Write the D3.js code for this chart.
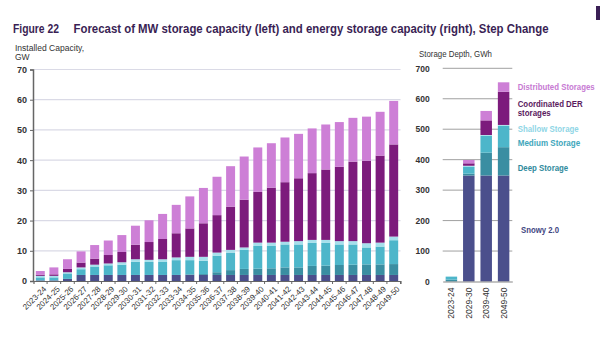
<!DOCTYPE html>
<html><head><meta charset="utf-8">
<script src="https://cdn.jsdelivr.net/npm/d3@7"></script>
<style>body{margin:0;background:#fff}svg{display:block}text{font-family:"Liberation Sans",Arial,sans-serif}</style>
</head><body><svg id="c" width="600" height="351"></svg>
<script>
const years = ["2023-24","2024-25","2025-26","2026-27","2027-28","2028-29","2029-30","2030-31","2031-32","2032-33","2033-34","2034-35","2035-36","2036-37","2037-38","2038-39","2039-40","2040-41","2041-42","2042-43","2043-44","2044-45","2045-46","2046-47","2047-48","2048-49","2049-50"];
const seriesNames = ["Snowy 2.0","Deep Storage","Medium Storage","Shallow Storage","Coordinated DER storages","Distributed Storages"];
const snowyGW = [0.2,0.2,0.7,2,2,2,2,2,2,2,2,2,2,2,2,2,2,2,2,2,2,2,2,2,2,2,2];
const deepGW = [0,0,0,0,0,0,0,0,0,0,0,0.2,0.3,0.9,1.6,2.0,2.1,2.2,2.5,2.5,3.0,3.1,3.3,3.4,3.5,3.5,3.6];
const mediumGW = [1.0,1.0,1.8,1.9,2.8,3.2,3.4,4.4,4.3,4.3,4.9,4.7,4.4,5.5,5.8,6.3,7.5,7.4,7.6,7.6,7.6,7.5,6.8,6.7,5.6,5.9,7.9];
const shallowGW = [0.5,0.5,0.4,0.6,0.6,0.6,0.8,0.8,0.7,0.9,0.9,1.1,1.3,1.0,0.9,0.8,1.1,1.1,0.9,1.1,1.0,1.0,1.1,1.1,1.4,1.3,1.2];
const derGW = [0.4,0.5,1.1,1.6,2.0,2.8,3.4,4.8,5.9,6.7,8.0,9.4,11.1,12.4,14.3,15.8,16.8,18.2,19.7,20.8,22.1,23.3,24.6,26.3,27.3,28.8,30.5];
const distGW = [1.2,2.3,3.2,3.7,4.5,4.8,5.6,6.3,7.2,8.3,9.4,10.6,11.7,12.7,13.4,14.3,14.7,14.7,14.8,14.7,14.8,14.9,14.8,14.5,14.6,14.5,14.4];
const gwTicks = [0,10,20,30,40,50,60,70];

const depthYears = ["2023-24","2029-30","2039-40","2049-50"];
const snowyGWh = [0,348,348,348];
const deepGWh = [6,6,75,93];
const mediumGWh = [10,22,56,70];
const shallowGWh = [0,4,2,3];
const derGWh = [0,8,48,109];
const distGWh = [0,11,31,31];
const gwhTicks = [0,100,200,300,400,500,600,700];

const colors = ["#4b4f8c","#3a8ea2","#4db6ca","#a6e0ec","#7c1b7c","#cd7fd6"];
const labelColors = ["#3f4682","#2f8a9c","#3ea6bb","#8fd6e6","#5a1a5e","#c77ad3"];

const svg = d3.select("#c");

// title
svg.append("text").attr("x",13).attr("y",33).attr("font-size",12).attr("font-weight","bold").attr("fill","#3a1f55")
  .attr("textLength",46).attr("lengthAdjust","spacingAndGlyphs").text("Figure 22");
svg.append("text").attr("x",73.5).attr("y",33).attr("font-size",12).attr("font-weight","bold").attr("fill","#3a1f55")
  .attr("textLength",475).attr("lengthAdjust","spacingAndGlyphs")
  .text("Forecast of MW storage capacity (left) and energy storage capacity (right), Step Change");
svg.append("rect").attr("x",596).attr("y",6).attr("width",4).attr("height",14).attr("fill","#3a1f55");

function stackRows(cats, arrs){
  return cats.map((c,i)=>{const o={cat:c}; seriesNames.forEach((s,k)=>o[s]=arrs[k][i]); return o;});
}

// LEFT
const xL = d3.scaleBand().domain(years).range([33.5,400.5]).paddingInner(0.34).paddingOuter(0.17);
const yL = d3.scaleLinear().domain([0,70]).range([281,69.5]);
const gL = svg.append("g");
gL.append("g").selectAll("line").data(gwTicks.slice(1)).join("line")
  .attr("x1",33).attr("x2",400.5).attr("y1",d=>yL(d)).attr("y2",d=>yL(d)).attr("stroke","#dadae6").attr("stroke-width",1.2);
const stL = d3.stack().keys(seriesNames)(stackRows(years,[snowyGW,deepGW,mediumGW,shallowGW,derGW,distGW]));
gL.append("g").selectAll("g").data(stL).join("g").attr("fill",(d,i)=>colors[i])
  .selectAll("rect").data(d=>d).join("rect")
  .attr("x",d=>xL(d.data.cat)).attr("width",xL.bandwidth())
  .attr("y",d=>yL(d[1])).attr("height",d=>Math.max(0,yL(d[0])-yL(d[1])));
const axL = gL.append("g").attr("transform","translate(33,0)").call(d3.axisLeft(yL).tickValues(gwTicks).tickSize(3).tickPadding(3));
axL.select(".domain").attr("stroke","#666").attr("stroke-width",1.5);
axL.selectAll(".tick line").attr("stroke","#666");
axL.selectAll("text").attr("font-size",9).attr("font-weight","bold").attr("fill","#333").attr("font-family","Liberation Sans, Arial");
const axLB = gL.append("g").attr("transform","translate(0,281)").call(d3.axisBottom(xL).tickSize(3).tickPadding(2));
axLB.select(".domain").attr("stroke","#666").attr("stroke-width",1.2);
axLB.selectAll(".tick line").attr("stroke","#666").attr("transform",`translate(${xL.step()/2},0)`);
axLB.selectAll("text").attr("font-size",8).attr("fill","#333").attr("font-family","Liberation Sans, Arial")
  .attr("text-anchor","end").attr("dy",0).attr("transform","translate(3,5) rotate(-45)");
svg.append("text").attr("x",15).attr("y",51).attr("font-size",8.5).attr("fill","#333")
  .attr("textLength",69).attr("lengthAdjust","spacingAndGlyphs").text("Installed Capacity,");
svg.append("text").attr("x",15).attr("y",59.5).attr("font-size",8.5).attr("fill","#333").text("GW");

// RIGHT
const xR = d3.scaleBand().domain(depthYears).range([442.7,512.3]).paddingInner(0.34).paddingOuter(0.17);
const yR = d3.scaleLinear().domain([0,700]).range([281.5,68.3]);
const gR = svg.append("g");
gR.append("g").selectAll("line").data(gwhTicks.slice(1)).join("line")
  .attr("x1",442.7).attr("x2",512.3).attr("y1",d=>yR(d)).attr("y2",d=>yR(d)).attr("stroke","#a0a0a0").attr("stroke-width",1);
const stR = d3.stack().keys(seriesNames)(stackRows(depthYears,[snowyGWh,deepGWh,mediumGWh,shallowGWh,derGWh,distGWh]));
gR.append("g").selectAll("g").data(stR).join("g").attr("fill",(d,i)=>colors[i])
  .selectAll("rect").data(d=>d).join("rect")
  .attr("x",d=>xR(d.data.cat)).attr("width",xR.bandwidth())
  .attr("y",d=>yR(d[1])).attr("height",d=>Math.max(0,yR(d[0])-yR(d[1])));
const axR = gR.append("g").attr("transform","translate(442.7,0)").call(d3.axisLeft(yR).tickValues(gwhTicks).tickSize(0).tickPadding(13));
axR.select(".domain").remove();
axR.selectAll("text").attr("font-size",8.5).attr("font-weight","bold").attr("fill","#333").attr("font-family","Liberation Sans, Arial");
const axRB = gR.append("g").attr("transform","translate(0,281.5)").call(d3.axisBottom(xR).tickSize(0).tickPadding(0));
axRB.select(".domain").attr("stroke","#888").attr("stroke-width",1.2);
axRB.selectAll("text").attr("font-size",8.5).attr("fill","#333").attr("font-family","Liberation Sans, Arial")
  .attr("text-anchor","end").attr("dy","0.35em").attr("transform","translate(0,6) rotate(-90)");
svg.append("text").attr("x",419).attr("y",57).attr("font-size",8.5).attr("fill","#333")
  .attr("textLength",73).attr("lengthAdjust","spacingAndGlyphs").text("Storage Depth, GWh");

// right labels
const lab = [
  {t:["Distributed Storages"], w:[77], y:90, c:5, x:517.7},
  {t:["Coordinated DER","storages"], w:[65,33], y:106.5, c:4, x:517.7},
  {t:["Shallow Storage"], w:[61], y:131.5, c:3, x:517.7},
  {t:["Medium Storage"], w:[62.5], y:146, c:2, x:517.7},
  {t:["Deep Storage"], w:[50.5], y:170.5, c:1, x:517.7},
  {t:["Snowy 2.0"], w:[38], y:232.5, c:0, x:521}
];
lab.forEach(l=>{
  l.t.forEach((s,j)=>svg.append("text").attr("x",l.x).attr("y",l.y+j*9.3).attr("font-size",8.3).attr("font-weight","bold")
    .attr("fill",labelColors[l.c]).attr("textLength",l.w[j]).attr("lengthAdjust","spacingAndGlyphs").text(s));
});
</script></body></html>
